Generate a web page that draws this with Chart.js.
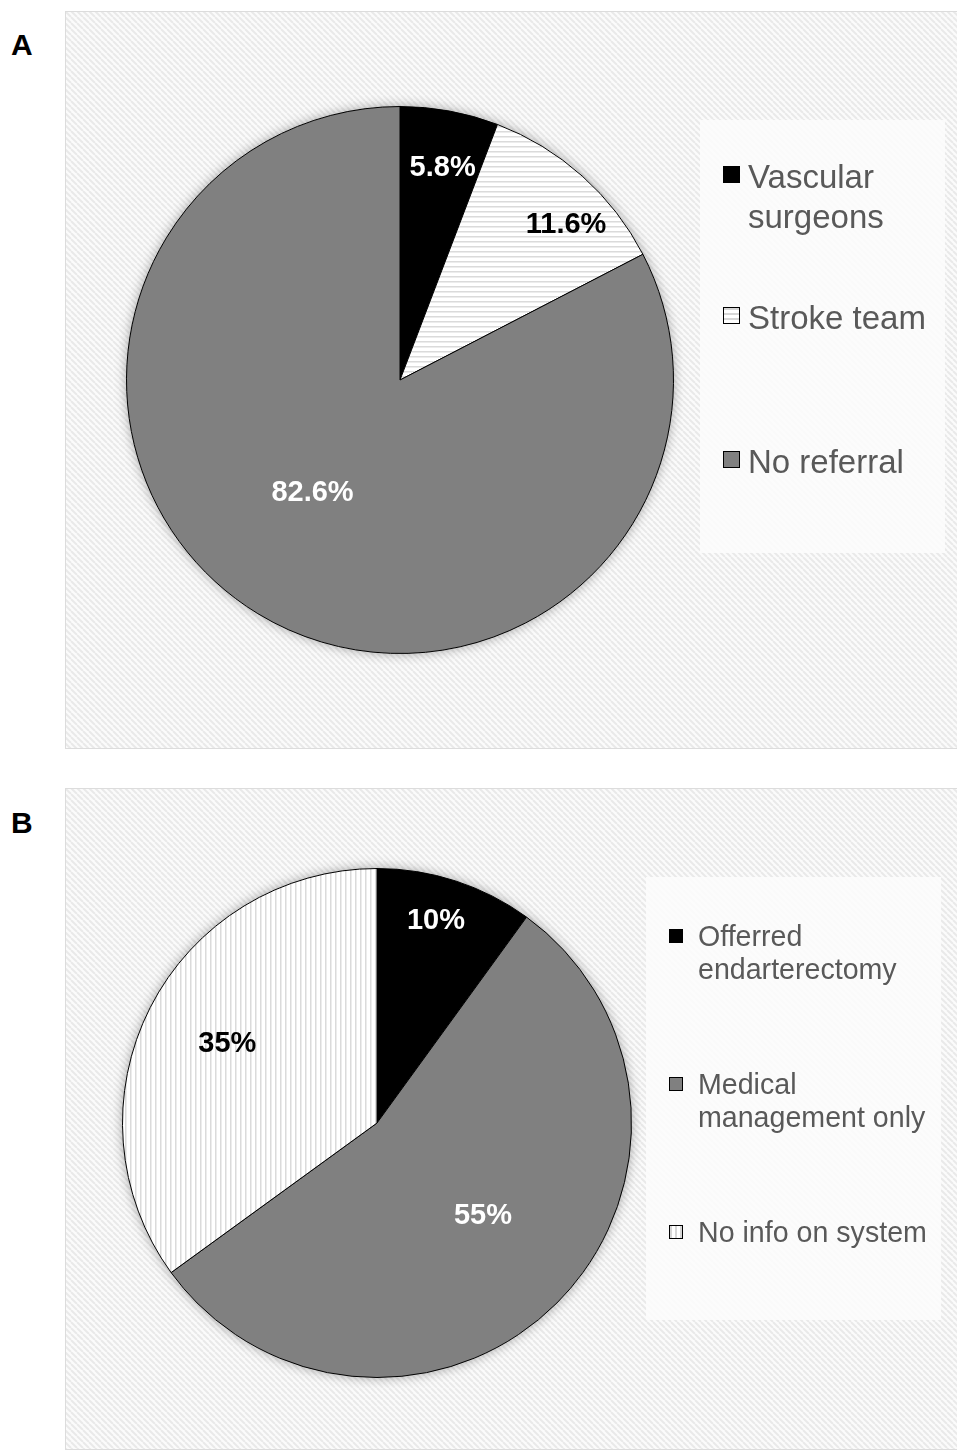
<!DOCTYPE html>
<html>
<head>
<meta charset="utf-8">
<script src="https://cdn.jsdelivr.net/npm/chart.js@4.4.0/dist/chart.umd.min.js"></script>
<style>
  body { margin: 0; width: 957px; height: 1450px; position: relative; background: #fff;
         font-family: "Liberation Sans", Arial, sans-serif; overflow: hidden; }
  .panel-label { position: absolute; left: 11px; font-size: 30px; font-weight: bold; line-height: 30px; color: #000; }
  canvas { position: absolute; }
  .legend { position: absolute; background: rgba(252, 252, 252, 0.88); }
  .item { position: absolute; color: #595959; }
  .swatch { position: absolute; box-sizing: border-box; border: 1px solid #000; }
</style>
</head>
<body>
<div class="panel-label" style="top:30px">A</div>
<div class="panel-label" style="top:808px">B</div>
<canvas id="chartA" width="892" height="738" style="left:65px;top:11px"></canvas>
<div class="legend" id="legendA" style="left:700px;top:120px;width:245px;height:433px"></div>
<canvas id="chartB" width="892" height="662" style="left:65px;top:788px"></canvas>
<div class="legend" id="legendB" style="left:646px;top:877px;width:295px;height:443px"></div>

<script>
// Panel A - referral
const referralLabels = ['Vascular surgeons', 'Stroke team', 'No referral'];
const referralValues = [5.8, 11.6, 82.6];

// Panel B - management
const managementLabels = ['Offerred endarterectomy', 'Medical management only', 'No info on system'];
const managementValues = [10, 55, 35];

// small striped fills
function makePattern(kind) {
  const c = document.createElement('canvas');
  const ctx = c.getContext('2d');
  if (kind === 'diag') {
    c.width = 6; c.height = 6;
    ctx.fillStyle = '#fbfbfb';
    ctx.fillRect(0, 0, 6, 6);
    ctx.strokeStyle = '#e9e9e9';
    ctx.lineWidth = 2;
    for (let o = -6; o <= 6; o += 6) {
      ctx.beginPath();
      ctx.moveTo(o, 0);
      ctx.lineTo(o + 6, 6);
      ctx.stroke();
    }
  } else {
    c.width = 5; c.height = 5;
    ctx.fillStyle = '#ffffff';
    ctx.fillRect(0, 0, 5, 5);
    ctx.fillStyle = '#dadada';
    if (kind === 'horiz') ctx.fillRect(0, 0, 5, 1.5);
    else ctx.fillRect(0, 0, 1.5, 5);
  }
  return ctx.createPattern(c, 'repeat');
}

const hatch = makePattern('diag');

// hatched panel with a thin grey frame
const panelBackground = {
  id: 'panelBackground',
  beforeDraw(chart) {
    const ctx = chart.ctx;
    ctx.save();
    ctx.fillStyle = hatch;
    ctx.fillRect(0, 0, chart.width, chart.height);
    ctx.strokeStyle = '#dcdcdc';
    ctx.lineWidth = 1;
    ctx.strokeRect(0.5, 0.5, chart.width + 2, chart.height - 1);
    ctx.restore();
  }
};

// soft shadow behind the pie
const pieShadow = {
  id: 'pieShadow',
  beforeDatasetsDraw(chart) {
    const arc = chart.getDatasetMeta(0).data[0];
    if (!arc) return;
    const ctx = chart.ctx;
    ctx.save();
    ctx.shadowColor = 'rgba(0, 0, 0, 0.35)';
    ctx.shadowBlur = 12;
    ctx.fillStyle = '#fff';
    ctx.beginPath();
    ctx.arc(arc.x, arc.y, arc.outerRadius, 0, Math.PI * 2);
    ctx.fill();
    ctx.restore();
  }
};

// percentage labels inside the slices (placed like Excel's best fit)
const sliceLabels = {
  id: 'sliceLabels',
  afterDatasetsDraw(chart, args, opts) {
    const ctx = chart.ctx;
    const values = chart.data.datasets[0].data;
    const size = 29;
    ctx.save();
    ctx.font = 'bold ' + size + 'px "Liberation Sans", Arial, sans-serif';
    ctx.textAlign = 'center';
    ctx.textBaseline = 'alphabetic';
    chart.getDatasetMeta(0).data.forEach((arc, i) => {
      const p = arc.getProps(['x', 'y', 'startAngle', 'endAngle', 'outerRadius'], true);
      const mid = (p.startAngle + p.endAngle) / 2 + opts.shift[i] * Math.PI / 180;
      const r = p.outerRadius * opts.radius[i];
      ctx.fillStyle = opts.colors[i];
      // centre the capitals on the anchor point
      ctx.fillText(values[i].toFixed(opts.decimals) + '%',
        p.x + Math.cos(mid) * r, p.y + Math.sin(mid) * r + size * 0.358);
    });
    ctx.restore();
  }
};

function makePie(id, labels, values, fills, padding, labelOpts) {
  return new Chart(document.getElementById(id), {
    type: 'pie',
    data: {
      labels: labels,
      datasets: [{
        data: values,
        backgroundColor: fills,
        borderColor: '#000',
        borderWidth: 1
      }]
    },
    options: {
      responsive: false,
      animation: false,
      layout: { padding: padding },
      plugins: {
        legend: { display: false },
        tooltip: { enabled: false },
        sliceLabels: labelOpts
      }
    },
    plugins: [panelBackground, pieShadow, sliceLabels]
  });
}

makePie('chartA', referralLabels, referralValues,
  ['#000000', makePattern('horiz'), '#808080'],
  { left: 61, top: 95, right: 283, bottom: 95 },
  { radius: [0.80, 0.837, 0.516], shift: [0.8, 4.75, 7.0], colors: ['#fff', '#000', '#fff'], decimals: 1 });

makePie('chartB', managementLabels, managementValues,
  ['#000000', '#808080', makePattern('vert')],
  { left: 57, top: 80, right: 325, bottom: 72 },
  { radius: [0.835, 0.548, 0.670], shift: [-1.9, -4.45, 1.65], colors: ['#fff', '#fff', '#000'], decimals: 0 });

// html legends
const stripeH = 'repeating-linear-gradient(to bottom, #d6d6d6 0 2px, #fff 2px 5px)';
const stripeV = 'repeating-linear-gradient(to right, #d6d6d6 0 2px, #fff 2px 5px)';

function buildLegend(el, labels, swatches, cfg) {
  labels.forEach((text, i) => {
    const sw = document.createElement('div');
    sw.className = 'swatch';
    sw.style.left = cfg.swatchLeft + 'px';
    sw.style.top = (cfg.tops[i] + cfg.swatchOffset) + 'px';
    sw.style.width = cfg.swatchSize + 'px';
    sw.style.height = cfg.swatchSize + 'px';
    sw.style.background = swatches[i];
    el.appendChild(sw);

    const item = document.createElement('div');
    item.className = 'item';
    item.textContent = text;
    item.style.left = cfg.textLeft + 'px';
    item.style.top = cfg.tops[i] + 'px';
    item.style.width = cfg.textWidth + 'px';
    item.style.fontSize = cfg.fontSize + 'px';
    item.style.lineHeight = cfg.lineHeight + 'px';
    el.appendChild(item);
  });
}

buildLegend(document.getElementById('legendA'), referralLabels,
  ['#000', stripeH, '#808080'],
  { tops: [37, 178, 322], swatchLeft: 23, swatchOffset: 9, swatchSize: 17,
    textLeft: 48, textWidth: 195, fontSize: 33, lineHeight: 40 });

buildLegend(document.getElementById('legendB'), managementLabels,
  ['#000', '#808080', stripeV],
  { tops: [43, 191, 339], swatchLeft: 23, swatchOffset: 9, swatchSize: 14,
    textLeft: 52, textWidth: 240, fontSize: 28.6, lineHeight: 33 });
</script>
</body>
</html>
